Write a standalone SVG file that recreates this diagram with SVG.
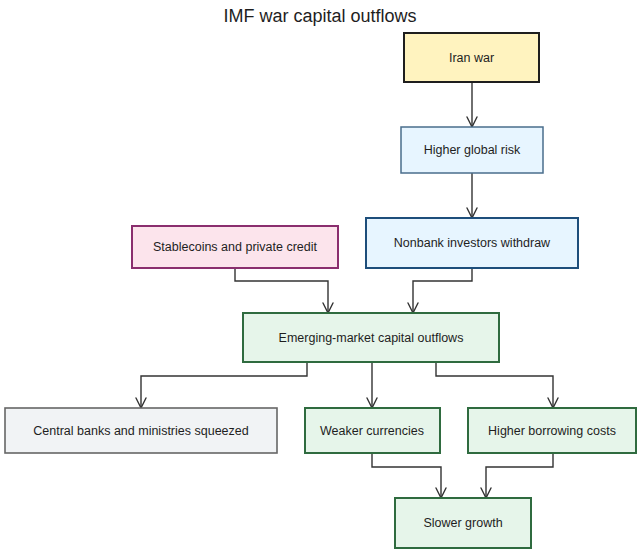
<svg xmlns="http://www.w3.org/2000/svg" width="640" height="552" viewBox="0 0 640 552">
<defs>
<marker id="arr" viewBox="0 0 12 12" refX="11" refY="6" markerWidth="12" markerHeight="12" markerUnits="userSpaceOnUse" orient="auto">
<path d="M1,1 L11,6 L1,11" fill="none" stroke="#333" stroke-width="1.4" stroke-linecap="round" stroke-linejoin="round"/>
</marker>
<style>
.box{stroke-width:2}
.t{font-family:"Liberation Sans","DejaVu Sans",sans-serif;font-size:12.5px;fill:#1e1e1e;text-anchor:middle;dominant-baseline:central}
.title{font-family:"Liberation Sans","DejaVu Sans",sans-serif;font-size:18px;fill:#1e1e1e;text-anchor:middle;dominant-baseline:central}
.c{fill:none;stroke:#333;stroke-width:1.4;marker-end:url(#arr)}
.yel{fill:#fff3bf;stroke:#1e1e1e}
.blu{fill:#e7f5ff;stroke:#1d4e7b}
.blu2{fill:#e7f5ff;stroke:#4a6d8c;stroke-width:1.5}
.pnk{fill:#fce4ec;stroke:#8a2e6e}
.grn{fill:#e6f5ea;stroke:#2f6b3f}
.gry{fill:#f1f3f5;stroke:#666;stroke-width:1.6}
</style>
</defs>
<rect width="640" height="552" fill="#ffffff"/>
<text class="title" x="320" y="16">IMF war capital outflows</text>
<g id="connectors">
<path class="c" d="M472,82 L472,127"/>
<path class="c" d="M472,173 L472,218"/>
<path class="c" d="M235,268 L235,281 L328,281 L328,313"/>
<path class="c" d="M472,268 L472,281 L413,281 L413,313"/>
<path class="c" d="M307,362 L307,376 L141,376 L141,408"/>
<path class="c" d="M372,362 L372,408"/>
<path class="c" d="M436,362 L436,376 L553,376 L553,408"/>
<path class="c" d="M372,453 L372,467 L441,467 L441,498"/>
<path class="c" d="M553,453 L553,467 L486,467 L486,498"/>
</g>
<g id="iran-war"><rect class="box yel" x="404" y="33" width="135" height="49"/><text class="t" x="471.5" y="57.5">Iran war</text></g>
<g id="higher-global-risk"><rect class="box blu2" x="401" y="127" width="142" height="46"/><text class="t" x="472" y="150">Higher global risk</text></g>
<g id="stablecoins"><rect class="box pnk" x="132" y="226" width="206" height="42"/><text class="t" x="235" y="247">Stablecoins and private credit</text></g>
<g id="nonbank"><rect class="box blu" x="366" y="218" width="212" height="50"/><text class="t" x="472" y="243">Nonbank investors withdraw</text></g>
<g id="em-outflows"><rect class="box grn" x="243" y="313" width="256" height="49"/><text class="t" x="371" y="337.5">Emerging-market capital outflows</text></g>
<g id="central-banks"><rect class="box gry" x="5" y="408" width="272" height="45"/><text class="t" x="141" y="430.5">Central banks and ministries squeezed</text></g>
<g id="weaker-currencies"><rect class="box grn" x="305" y="408" width="135" height="45"/><text class="t" x="372" y="430.5">Weaker currencies</text></g>
<g id="higher-borrowing"><rect class="box grn" x="468" y="408" width="168" height="45"/><text class="t" x="552" y="430.5">Higher borrowing costs</text></g>
<g id="slower-growth"><rect class="box grn" x="395" y="498" width="136" height="50"/><text class="t" x="463" y="523">Slower growth</text></g>
</svg>
